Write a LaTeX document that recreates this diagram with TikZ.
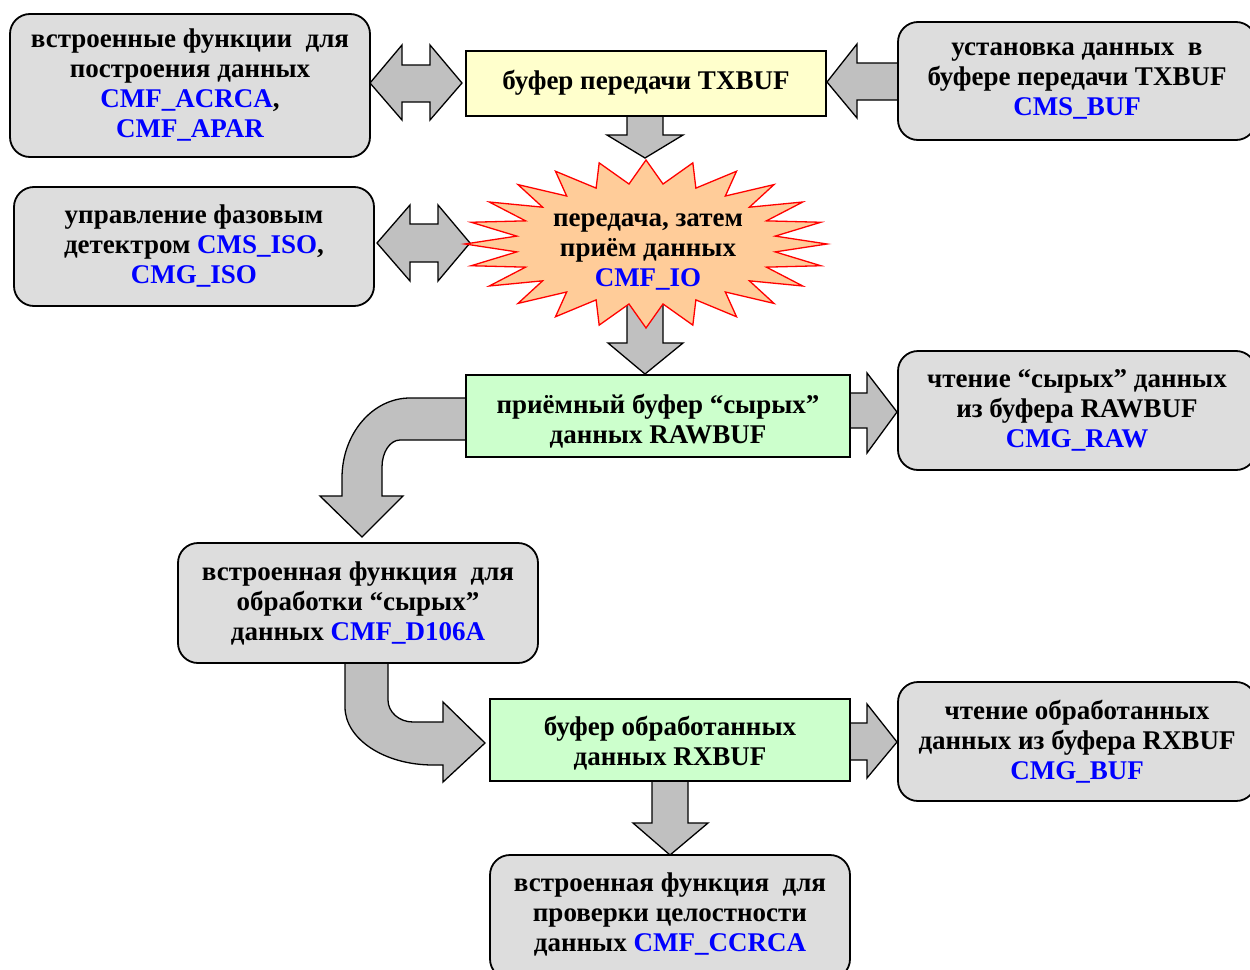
\documentclass[tikz,border=0pt]{standalone}
\usepackage{fontspec}
\setmainfont{Liberation Serif}
\definecolor{boxgray}{RGB}{221,221,221}
\definecolor{arrgray}{RGB}{192,192,192}
\definecolor{txyellow}{RGB}{255,255,204}
\definecolor{bufgreen}{RGB}{204,255,204}
\definecolor{peach}{RGB}{255,204,153}
\definecolor{fnblue}{RGB}{0,0,255}
\newcommand{\fn}[1]{\textcolor{fnblue}{#1}}
\begin{document}
\begin{tikzpicture}[x=1pt,y=-1pt,
  txt/.style={font=\fontsize{27}{30}\selectfont\bfseries, align=center, inner sep=0pt},
  graybox/.style={txt, draw=black, line width=1.8pt, fill=boxgray, rounded corners=20pt},
  bufbox/.style={txt, draw=black, line width=1.8pt},
  blockarrow/.style={draw=black, line width=1.3pt, fill=arrgray, line join=miter}]
\useasboundingbox (0,0) rectangle (1250,969);
% ---------- block arrows (drawn first, under the boxes)
% double arrow top
\path[blockarrow] (370,83) -- (402,45) -- (402,65) -- (430,65) -- (430,45) -- (462,83)
  -- (430,120) -- (430,102) -- (402,102) -- (402,120) -- cycle;
% left-pointing arrow top right
\path[blockarrow] (827,82) -- (857,44) -- (857,63) -- (900,63) -- (900,100) -- (857,100) -- (857,118) -- cycle;
% down arrow 1
\path[blockarrow] (627,110) -- (627,135) -- (607,135) -- (645,158) -- (683,135) -- (663,135) -- (663,110) -- cycle;
% double arrow 2
\path[blockarrow] (377,243) -- (410,205) -- (410,224) -- (438,224) -- (438,205) -- (470,243)
  -- (438,281) -- (438,262) -- (410,262) -- (410,281) -- cycle;
% down arrow 2
\path[blockarrow] (627,290) -- (627,343) -- (608,343) -- (645,374) -- (683,343) -- (663,343) -- (663,290) -- cycle;
% right arrow 1
\path[blockarrow] (845,393) -- (867,393) -- (867,373) -- (897,412) -- (867,453) -- (867,428) -- (845,428) -- cycle;
% curved arrow 1
\path[blockarrow] (470,398) -- (410,398) .. controls (372.5,398) and (342,433.8) .. (342,478)
  -- (342,496) -- (320,496) -- (362,537) -- (403,496) -- (382,496) -- (382,467)
  .. controls (382,452.1) and (390.1,440) .. (400,440) -- (470,440) -- cycle;
% curved arrow 2
\path[blockarrow] (345,658) -- (345,707) .. controls (345,739) and (384.4,765) .. (433,765)
  -- (443,765) -- (443,782) -- (485,743) -- (443,702) -- (443,722) -- (413,722)
  .. controls (399.2,722) and (388,712.1) .. (388,700) -- (388,658) -- cycle;
% right arrow 2
\path[blockarrow] (845,723) -- (867,723) -- (867,704) -- (897,742) -- (867,778) -- (867,760) -- (845,760) -- cycle;
% down arrow 3
\path[blockarrow] (652,776) -- (652,823) -- (633,823) -- (670,855) -- (708,823) -- (688,823) -- (688,776) -- cycle;
% ---------- starburst
\draw[red, line width=1.3pt, fill=peach, line join=miter]
  plot[samples at={0,1,...,47}, variable=\t]
  ({646 + (1-0.28*mod(\t,2))*181*cos(90+7.5*\t)}, {244 + (1-0.28*mod(\t,2))*84*sin(90+7.5*\t)}) -- cycle;
\node[txt] (io) at (648,252) {передача, затем\\приём данных\\\fn{CMF\_IO}};
% ---------- boxes
\node[graybox, minimum width=360pt, minimum height=143pt] (build) at (190,85.5)
  {встроенные функции~ для\\построения данных\\\fn{CMF\_ACRCA},\\\fn{CMF\_APAR}};
\node[bufbox, fill=txyellow, minimum width=360pt, minimum height=65pt] (txbuf) at (646,83.5) {};
\node[txt] (txbuf-t) at (646,82.5) {буфер передачи TXBUF};
\node[graybox, minimum width=358pt, minimum height=118pt] (setbuf) at (1077,81)
  {установка данных~ в\\буфере передачи TXBUF\\\fn{CMS\_BUF}};
\node[graybox, minimum width=360pt, minimum height=119pt] (iso) at (194,246.5)
  {управление фазовым\\детектром \fn{CMS\_ISO},\\\fn{CMG\_ISO}};
\node[bufbox, fill=bufgreen, minimum width=384pt, minimum height=82pt] (raw) at (658,416) {};
\node[txt] (raw-t) at (658,421) {приёмный буфер “сырых”\\данных RAWBUF};
\node[graybox, minimum width=358pt, minimum height=119pt] (readraw) at (1077,410.5)
  {чтение “сырых” данных\\из буфера RAWBUF\\\fn{CMG\_RAW}};
\node[graybox, minimum width=360pt, minimum height=120pt] (d106) at (358,603)
  {встроенная функция~ для\\обработки “сырых”\\данных \fn{CMF\_D106A}};
\node[bufbox, fill=bufgreen, minimum width=360pt, minimum height=82pt] (rx) at (670,740) {};
\node[txt] (rx-t) at (670,743.5) {буфер обработанных\\данных RXBUF};
\node[graybox, minimum width=358pt, minimum height=119pt] (readrx) at (1077,741.5)
  {чтение обработанных\\данных из буфера RXBUF\\\fn{CMG\_BUF}};
\node[graybox, minimum width=360pt, minimum height=124pt] (crc) at (670,917) {};
\node[txt] (crc-t) at (670,914) {встроенная функция~ для\\проверки целостности\\данных \fn{CMF\_CCRCA}};
\end{tikzpicture}
\end{document}
